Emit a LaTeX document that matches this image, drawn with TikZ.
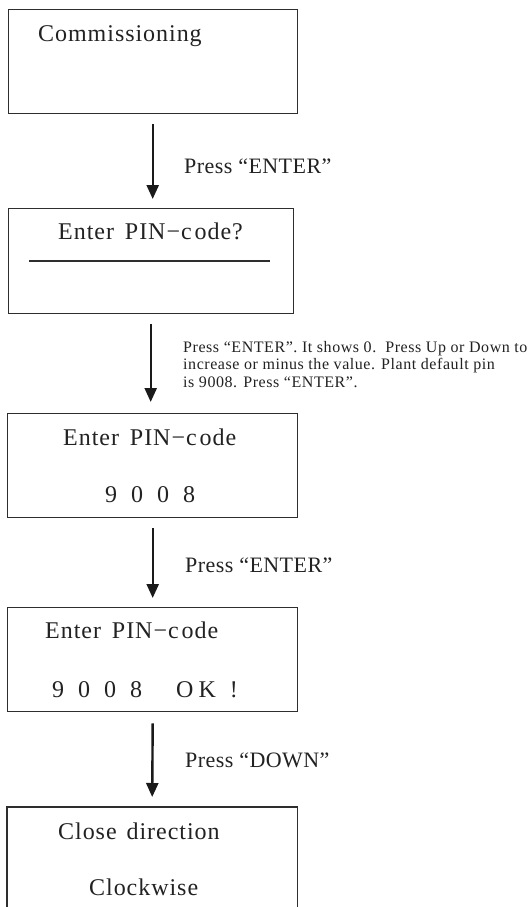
\documentclass[tikz,border=0pt]{standalone}
\usepackage{fontspec}
\setmainfont{Liberation Serif}
\usetikzlibrary{arrows.meta}
\definecolor{boxc}{HTML}{2E2E2E}
\definecolor{txt}{HTML}{222222}
\definecolor{arrc}{HTML}{1A1A1A}
\begin{document}
\begin{tikzpicture}[x=1pt,y=-1pt,
  box/.style={draw=boxc, line width=1.4pt, anchor=north west, inner sep=0pt, minimum height=104pt},
  big/.style={anchor=base west, inner sep=0pt, text=txt, font=\fontsize{24}{28}\selectfont\addfontfeature{LetterSpace=4}},
  lab/.style={anchor=base west, inner sep=0pt, text=txt, font=\fontsize{22}{26}\selectfont\addfontfeature{LetterSpace=2}},
  small/.style={anchor=north west, inner sep=0pt, text=txt, align=left, font=\fontsize{16}{17.5}\selectfont\addfontfeature{LetterSpace=3.5}},
  arr/.style={-{Triangle[width=12pt,length=14pt]}, line width=2.4pt, draw=arrc}]
\useasboundingbox[fill=white] (0,0) rectangle (532,907);

% boxes
\node[box, minimum width=289pt] (b1) at (8,9) {};
\node[box, minimum width=285pt, minimum height=105pt] (b2) at (8,208) {};
\node[box, minimum width=290pt] (b3) at (7,413) {};
\node[box, minimum width=290pt] (b4) at (7,607) {};
\node[anchor=north west, inner sep=0pt, minimum width=290pt, minimum height=110pt] (b5) at (7,807) {};
\draw[draw=boxc, line width=1.4pt] (b5.south west) -- (b5.north west) -- (b5.north east) -- (b5.south east);

% texts
\node[big] (t1) at (38,42) {Commissioning};
\node[big] (t2) at (58,239) {Enter\hspace{4pt} PIN−c\hspace{3pt}ode?};
\coordinate (l2a) at (29,261);
\coordinate (l2b) at (270,261);
\draw[draw=boxc, line width=1.4pt] (l2a) -- (l2b);
\node[big] (t3) at (63,445) {Enter\hspace{4pt} PIN−c\hspace{3pt}ode};
\node[big] (t3b) at (105,502) {9\hspace{14pt}0\hspace{14pt}0\hspace{14pt}8};
\node[big] (t4) at (45,638) {Enter\hspace{4pt} PIN−c\hspace{3pt}ode};
\node[big] (t4b) at (52,697) {9\hspace{14pt}0\hspace{14pt}0\hspace{14pt}8\hspace{34pt}O\hspace{5pt}K\hspace{14pt}!};
\node[big] (t5) at (58,839) {Close\hspace{3pt} direction};
\node[big] (t5b) at (89,895) {Clockwise};

% labels
\node[lab] (p1) at (184,173) {Press “ENTER”};
\node[small] (p2) at (183,341) {Press “ENTER”. It shows 0.\ \ Press Up or Down to\\increase or minus the value. Plant default pin\\is 9008. Press “ENTER”.};
\node[lab] (p3) at (185,572) {Press “ENTER”};
\node[lab] (p4) at (185,767) {Press “DOWN”};

% arrows
\draw[arr] ([xshift=-0.5pt,yshift=-10pt]b1.south) -- ([xshift=-0.5pt,yshift=9pt]b1.south |- b2.north);
\draw[arr] ([xshift=-0.5pt,yshift=-10pt]b2.south) -- ([xshift=-0.5pt,yshift=11pt]b2.south |- b3.north);
\draw[arr] ([xshift=0pt,yshift=-10pt]b3.south) -- ([yshift=9pt]b4.north);
\draw[arr] ([xshift=0pt,yshift=-11pt]b4.south) -- ([yshift=10pt]b5.north);
\end{tikzpicture}
\end{document}
